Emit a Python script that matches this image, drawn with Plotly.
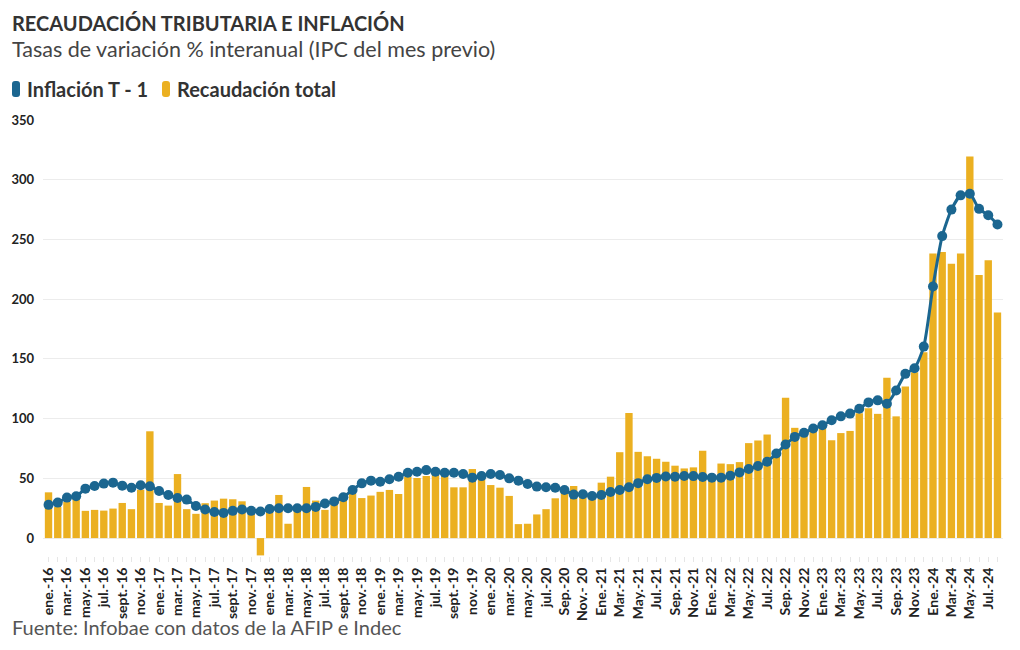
import plotly.graph_objects as go

months_es = ["ene.", "feb.", "mar.", "abr.", "may.", "jun.", "jul.", "ago.", "sept.", "oct.", "nov.", "dic."]
months_cap = ["Ene.", "Feb.", "Mar.", "Abr.", "May.", "Jun.", "Jul.", "Ago.", "Sep.", "Oct.", "Nov.", "Dic."]

# Month labels (ene.-16 ... ago.-24)
categories = []
for y in range(16, 25):
    for m in range(12):
        if y == 24 and m > 7:
            break
        if y <= 19 or (y == 20 and m < 8):
            lab = f"{months_es[m]}-{y}"
        elif y == 20 and m == 10:
            lab = "Nov.- 20"
        else:
            lab = f"{months_cap[m]}-{y}"
        categories.append(lab)

inflacion = [
    27.8, 29.7, 33.9, 35, 41.4, 43.6, 45.6, 46.4, 43.9, 42.2, 44.2, 43.3, 39.4, 36.1, 33.6, 32.2, 26.9, 23.9, 21.9,
    21.1, 22.8, 23.9, 22.8, 22.2, 24.4, 25, 25, 25, 25, 26.1, 28.9,
    30.7, 34.2, 40.3, 45.8, 48.1, 47.2, 49.2, 51.4, 54.7, 55.6, 56.9, 55.6, 54.7, 54.7, 53.6, 50.6, 51.9, 53.6, 52.8, 50, 48.1, 45.3, 43.1, 42.5,
    42.2, 40.3, 36.4, 36.7, 35.3, 36, 38.6, 40.3, 42.5, 46, 49.2, 50.4,
    51.6, 51.3, 52, 51.9, 51.1, 50.6, 50.6, 52.2, 55, 57.8, 60.3, 63.9, 70.8, 78.3, 84.7, 88.1, 91.7, 94.4, 98.6, 101.9,
    104.2, 108.3, 113.6, 115.3, 112.5, 123.6, 137.5, 142.2, 160.3, 210.6, 252.8, 275, 286.9, 288.3, 275.6, 270.3, 262.5,
]

recaudacion = [
    38.3, 26, 30.3, 33, 22.8, 23.6, 23, 24.7, 29.4, 24.2, 40.5, 89.4, 29.4, 27.2, 53.6, 24.2, 20.3, 29.2, 31.4,
    33, 32.5, 30.8, 22, -14.5, 23, 36.1, 12, 23, 42.8, 31.4, 23.6,
    29.5, 32, 37.5, 33.5, 35.6, 38.7, 40.3, 36.9, 51.4, 50.3, 52, 54, 52.5, 42.5, 42.5, 57.8, 51, 44.4, 42.2, 35.3, 11.7, 12, 19.8, 24.2,
    33.3, 40, 43.6, 36.1, 34.2, 46.4, 51.4, 71.9, 104.7, 72.2, 68.5, 66.4,
    63.9, 60.6, 58.3, 59.2, 73.2, 50, 62.4, 61.9, 63.6, 79.5, 81.7, 86.7, 69.5, 117.5, 92.3, 87.5, 91.5, 93, 81.9, 87.9,
    89.7, 104.5, 108.7, 104, 134.2, 101.9, 126.9, 138.9, 155.6, 238.3, 239.4, 229.7, 238.3, 319.4, 220.3, 232.5, 188.9,
]

y_ticks = [0, 50, 100, 150, 200, 250, 300, 350]

BLUE = "#1b6690"
GOLD = "#ebb021"
FONT = "Lato"

# page offset (browser default body margin)
OFF = 8
W, H = 1020, 650
# target plot-area pixel box on screen: left 43, right 1003, top 120, bottom 556
ML = 43 - OFF
MT = 120 - OFF
MR = W - (1003 - OFF)
MB = H - (556 - OFF)
PW, PH = W - ML - MR, H - MT - MB

def px(x):
    return (x - OFF - ML) / PW

def py(y):
    return (H - MB - (y - OFF)) / PH

def pill_path(x0, x1, y0, y1, r):
    pts = [
        f"M {px(x0 + r)},{py(y0)}",
        f"L {px(x1 - r)},{py(y0)}",
        f"Q {px(x1)},{py(y0)} {px(x1)},{py(y0 + r)}",
        f"L {px(x1)},{py(y1 - r)}",
        f"Q {px(x1)},{py(y1)} {px(x1 - r)},{py(y1)}",
        f"L {px(x0 + r)},{py(y1)}",
        f"Q {px(x0)},{py(y1)} {px(x0)},{py(y1 - r)}",
        f"L {px(x0)},{py(y0 + r)}",
        f"Q {px(x0)},{py(y0)} {px(x0 + r)},{py(y0)}",
        "Z",
    ]
    return " ".join(pts)

fig = go.Figure()
fig.add_trace(go.Bar(x=categories, y=recaudacion, name="Recaudación total",
                     marker=dict(color=GOLD, line=dict(width=0))))
fig.add_trace(go.Scatter(x=categories, y=inflacion, name="Inflación T - 1",
                         mode="lines+markers",
                         line=dict(color=BLUE, width=3, shape="spline", smoothing=0.6),
                         marker=dict(color=BLUE, size=10)))

ticktext = [c if i % 2 == 0 else "" for i, c in enumerate(categories)]

fig.update_layout(
    width=W, height=H,
    margin=dict(l=ML, r=MR, t=MT, b=MB, autoexpand=False),
    paper_bgcolor="white", plot_bgcolor="white",
    showlegend=False,
    bargap=0.2,
    font=dict(family=FONT, color="#222"),
    xaxis=dict(type="category", tickmode="array", tickvals=categories, ticktext=ticktext,
               tickangle=-90, tickfont=dict(family=FONT, size=14, color="#222", weight="bold"),
               ticks="outside", ticklen=5, tickcolor="#e6e6e6", showgrid=False,
               showline=False, zeroline=False, automargin=False,
               range=[-0.6, len(categories) - 0.4]),
    yaxis=dict(range=[-15, 350], tickvals=y_ticks, showgrid=True, gridcolor="#ececec",
               gridwidth=1, zeroline=True, zerolinecolor="#ececec", zerolinewidth=1,
               tickfont=dict(family=FONT, size=13, color="#222", weight="bold"),
               ticklabelstandoff=8, showline=False, automargin=False),
)

# Title, subtitle, source
fig.add_annotation(text="<b>RECAUDACIÓN TRIBUTARIA E INFLACIÓN</b>", xref="paper", yref="paper",
                   x=px(10), y=py(23), xanchor="left", yanchor="middle", showarrow=False,
                   font=dict(family=FONT, size=20, color="#333"))
fig.add_annotation(text="Tasas de variación % interanual (IPC del mes previo)", xref="paper", yref="paper",
                   x=px(10), y=py(49), xanchor="left", yanchor="middle", showarrow=False,
                   font=dict(family=FONT, size=21.5, color="#444"))
fig.add_annotation(text="Fuente: Infobae con datos de la AFIP e Indec", xref="paper", yref="paper",
                   x=px(10), y=py(627), xanchor="left", yanchor="middle", showarrow=False,
                   font=dict(family=FONT, size=20, color="#555"))

# Custom legend
legend_items = [("Inflación T - 1", BLUE, 12, 25), ("Recaudación total", GOLD, 162, 175)]
for label, col, sx, tx in legend_items:
    fig.add_shape(type="path", xref="paper", yref="paper",
                  path=pill_path(sx, sx + 8, 81, 97, 3),
                  fillcolor=col, line=dict(width=0))
    fig.add_annotation(text=f"<b>{label}</b>", xref="paper", yref="paper",
                       x=px(tx), y=py(89), xanchor="left", yanchor="middle", showarrow=False,
                       font=dict(family=FONT, size=20, color="#333"))

fig.write_html("out.html")
